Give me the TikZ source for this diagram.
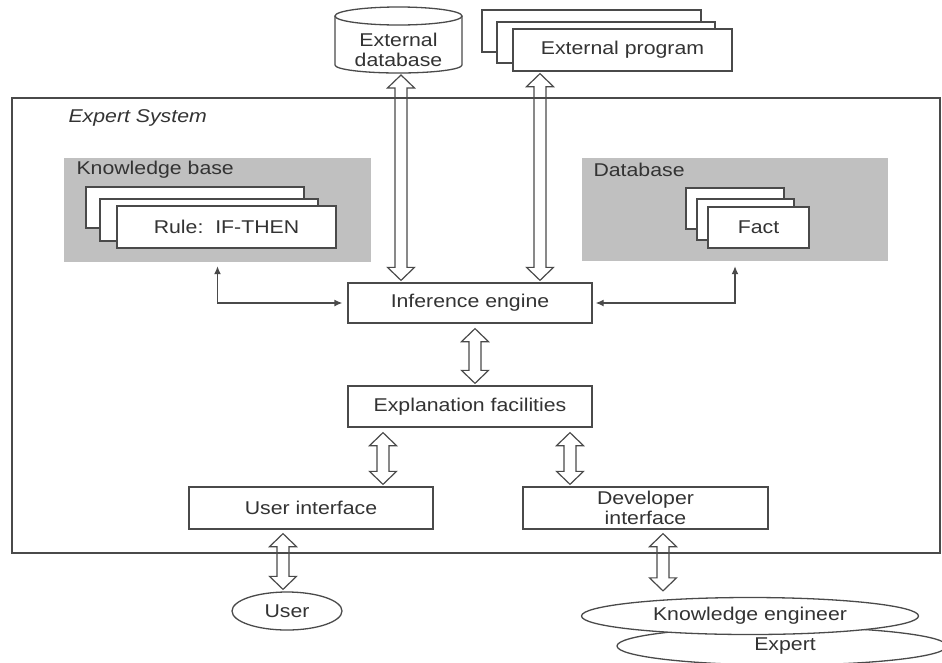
\documentclass[tikz,border=0pt]{standalone}
\usepackage{fontspec}
\setmainfont{Liberation Sans}[FakeStretch=1.15]
\usetikzlibrary{arrows.meta,calc,shapes.geometric}
\definecolor{ln}{HTML}{4A4A4A}
\definecolor{tx}{HTML}{333333}
\definecolor{gfill}{HTML}{C0C0C0}
\newcommand{\fatarrow}[2]{%
  \draw[fat] let \p1=#1, \p2=#2 in
  (\x1,\y1) -- ++(13.5pt,-13pt) -- ++(-7.5pt,0pt) -- (\x1+6pt,\y2+13pt)
  -- ++(7.5pt,0pt) -- (\x1,\y2) -- ++(-13.5pt,13pt) -- ++(7.5pt,0pt)
  -- (\x1-6pt,\y1-13pt) -- ++(-7.5pt,0pt) -- cycle;}
\begin{document}
\begin{tikzpicture}[x=1pt,y=-1pt,
  every node/.style={font=\fontsize{18.5}{20}\selectfont, text=tx},
  box/.style={draw=ln, line width=1.3pt, fill=white, inner sep=0pt},
  grayarea/.style={fill=gfill, inner sep=0pt},
  fat/.style={draw=ln, line width=1.2pt, line join=miter},
  thinarr/.style={draw=ln, line width=1.3pt,
    {Latex[length=8pt,width=7pt]}-{Latex[length=8pt,width=7pt]}},
  oval/.style={ellipse, draw=ln, line width=1.3pt, fill=white, inner sep=0pt}]
\useasboundingbox (0,0) rectangle (942,662);
\fill[white] (0,0) rectangle (942,662);

% outer expert system box
\node[draw=ln, line width=1.3pt, minimum width=928, minimum height=455, inner sep=0pt] (es) at (476,325.5) {};
\node[anchor=west, font=\fontsize{18.5}{20}\selectfont\itshape] (estitle) at (65,118) {Expert System};

% external database (cylinder)
\draw[box] (335,16) -- (335,65) arc[start angle=180, end angle=0, x radius=63.5, y radius=8] -- (462,16);
\draw[box] (398.5,16) ellipse[x radius=63.5, y radius=9];
\node[align=center] (edb) at (398.5,50) {External\\database};
\coordinate (edbbot) at (401,75);

% external program (stack)
\node[box, minimum width=219, minimum height=42] (ep1) at (591.5,31) {};
\node[box, minimum width=218, minimum height=41] (ep2) at (606,42.5) {};
\node[box, minimum width=219, minimum height=42] (ep3) at (622.5,50) {External program};

% knowledge base
\node[grayarea, minimum width=307, minimum height=104] (kb) at (217.5,210) {};
\node[anchor=west] (kbl) at (73,170) {Knowledge base};
\node[box, minimum width=218, minimum height=41] (r1) at (195,207.5) {};
\node[box, minimum width=218, minimum height=42] (r2) at (209,220) {};
\node[box, minimum width=219, minimum height=42] (r3) at (226.5,227) {Rule:\ \ IF-THEN};

% database
\node[grayarea, minimum width=306, minimum height=103] (db) at (735,209.5) {};
\node[anchor=west] (dbl) at (590,170) {Database};
\node[box, minimum width=98, minimum height=41] (f1) at (735,208.5) {};
\node[box, minimum width=97, minimum height=41] (f2) at (745.5,219.5) {};
\node[box, minimum width=101, minimum height=41] (f3) at (758.5,227.5) {Fact};

% inner boxes
\node[box, minimum width=244, minimum height=40] (ie) at (470,303) {Inference engine};
\node[box, minimum width=244, minimum height=41] (ef) at (470,406.5) {Explanation facilities};
\node[box, minimum width=244, minimum height=42] (ui) at (311,508) {User interface};
\node[box, minimum width=245, minimum height=42, align=center] (di) at (645.5,508) {Developer\\interface};

% people
\node[oval, minimum width=330, minimum height=38] (ex) at (782,646) {\hspace*{6pt}Expert};
\node[oval, minimum width=337, minimum height=37] (ke) at (750,616) {Knowledge engineer};
\node[oval, minimum width=110, minimum height=38] (user) at (287,611) {User};

% thin connectors
\draw[thinarr, shorten <=4pt, shorten >=5pt] (kb.south) |- (ie.west);
\draw[thinarr, shorten <=5pt, shorten >=3pt] (db.south) |- (ie.east);

% fat double arrows
\fatarrow{(edbbot)}{([yshift=2pt]ie.north)}
\fatarrow{([xshift=-82.5pt,yshift=-2pt]ep3.south)}{([yshift=2pt]ie.north)}
\fatarrow{([xshift=5pt,yshift=-5pt]ie.south)}{([yshift=2pt]ef.north)}
\fatarrow{([xshift=-87pt,yshift=-5pt]ef.south)}{([yshift=2pt]ui.north)}
\fatarrow{([xshift=100pt,yshift=-5pt]ef.south)}{([yshift=2pt]di.north)}
\fatarrow{([xshift=-28pt,yshift=-4pt]ui.south)}{([yshift=2pt]user.north)}
\fatarrow{([xshift=17.5pt,yshift=-4pt]di.south)}{([yshift=6pt]ke.north)}
\end{tikzpicture}
\end{document}
